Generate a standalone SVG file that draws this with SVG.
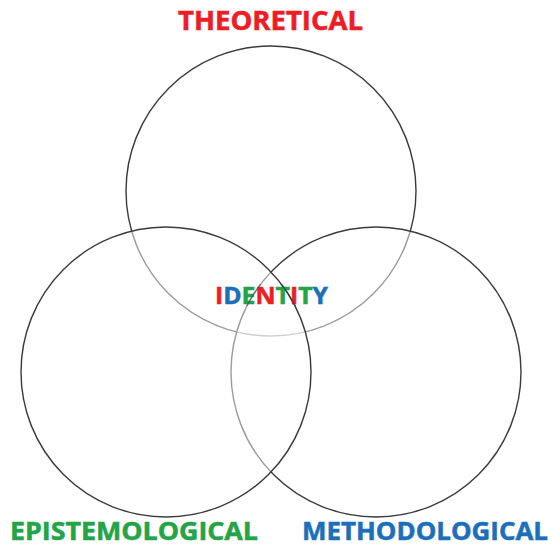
<svg xmlns="http://www.w3.org/2000/svg" width="552" height="546" viewBox="0 0 552 546">
<style>
.c{fill:#fff;fill-opacity:0.5;stroke:#3a3a3a;stroke-width:1.4}
.o{fill:none;stroke:#3a3a3a;stroke-width:1.4}
.t{font-family:"Open Sans","Liberation Sans",sans-serif;font-weight:bold;stroke-width:0.5}
.r{fill:#ee1c24;stroke:#ee1c24}.g{fill:#22a447;stroke:#22a447}.b{fill:#1b6fbb;stroke:#1b6fbb}
</style>
<defs><clipPath id="cp"><rect x="210" y="284" width="125" height="22"/></clipPath></defs>
<g id="circles">
<circle id="theoretical-circle" class="c" cx="271" cy="191" r="145"/>
<circle id="methodological-circle" class="c" cx="376" cy="372" r="145"/>
<circle id="epistemological-circle" class="c" cx="166" cy="372" r="145"/>
</g>
<g id="labels">
<text id="theoretical" class="t r" x="178" y="30" font-size="26" textLength="185" lengthAdjust="spacingAndGlyphs">THEORETICAL</text>
<text id="epistemological" class="t g" x="10" y="539.5" font-size="24.5" textLength="248" lengthAdjust="spacingAndGlyphs">EPISTEMOLOGICAL</text>
<text id="methodological" class="t b" x="302" y="539.5" font-size="24.5" textLength="246" lengthAdjust="spacingAndGlyphs">METHODOLOGICAL</text>
<text id="identity" class="t" x="215" y="304" font-size="23" textLength="113" lengthAdjust="spacingAndGlyphs"><tspan class="r">I</tspan><tspan class="b">D</tspan><tspan class="g">E</tspan><tspan class="r">N</tspan><tspan class="g">T</tspan><tspan class="r">I</tspan><tspan class="g">T</tspan><tspan class="b">Y</tspan></text>
</g>
<g clip-path="url(#cp)">
<circle class="o" cx="376" cy="372" r="145" stroke-opacity="0.45"/>
<circle class="o" cx="166" cy="372" r="145" stroke-opacity="0.8"/>
</g>
</svg>
